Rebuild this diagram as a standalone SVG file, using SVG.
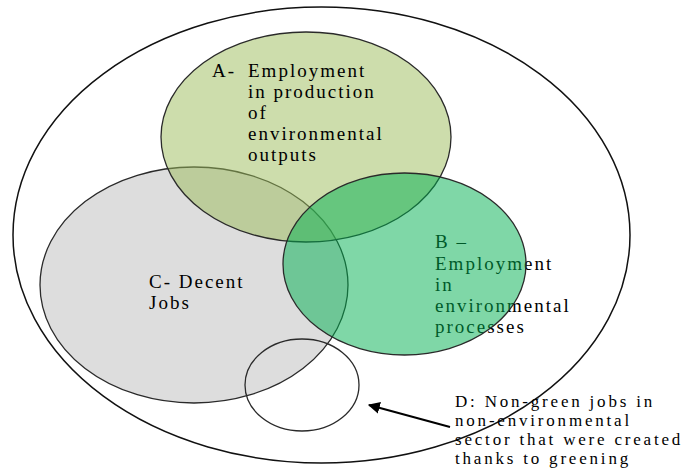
<svg xmlns="http://www.w3.org/2000/svg" width="694" height="469" viewBox="0 0 694 469">
<defs>
<style>
text{font-family:'Liberation Serif','Times New Roman','DejaVu Serif',serif;fill:#000}
.lbl{font-size:19px;letter-spacing:2px}
.note{font-size:17px;letter-spacing:2.8px}
.edge{stroke:#2a2a2a;stroke-width:1.3}
</style>
<marker id="ah" viewBox="0 0 10 10" refX="9" refY="5" markerWidth="6" markerHeight="6" orient="auto" markerUnits="strokeWidth">
<path d="M0,0 L10,5 L0,10 z" fill="#000"/>
</marker>
</defs>
<rect width="694" height="469" fill="#fff"/>
<g id="outer">
<ellipse cx="321.5" cy="235" rx="308.5" ry="228" fill="none" stroke="#111" stroke-width="1.5"/>
</g>
<g id="nodeC">
<ellipse class="edge" cx="194" cy="285" rx="154" ry="118" fill="#dddddd"/>
<text class="lbl" x="149" y="288" font-family="Liberation Serif, serif">C- Decent</text>
<text class="lbl" x="149" y="309" font-family="Liberation Serif, serif">Jobs</text>
</g>
<g id="nodeA">
<ellipse class="edge" cx="306" cy="137" rx="145" ry="105" fill="#9bbb59" fill-opacity="0.5"/>
<text class="lbl" x="212" y="77" font-family="Liberation Serif, serif">A-</text>
<text class="lbl" x="248" y="77" font-family="Liberation Serif, serif">Employment</text>
<text class="lbl" x="248" y="98" font-family="Liberation Serif, serif">in production</text>
<text class="lbl" x="248" y="119" font-family="Liberation Serif, serif">of</text>
<text class="lbl" x="248" y="140" font-family="Liberation Serif, serif">environmental</text>
<text class="lbl" x="248" y="161" font-family="Liberation Serif, serif">outputs</text>
</g>
<g id="nodeB">
<text class="lbl" x="435" y="248" font-family="Liberation Serif, serif">B –</text>
<text class="lbl" x="435" y="270" font-family="Liberation Serif, serif">Employment</text>
<text class="lbl" x="435" y="291" font-family="Liberation Serif, serif">in</text>
<text class="lbl" x="435" y="312" font-family="Liberation Serif, serif">environmental</text>
<text class="lbl" x="435" y="333" font-family="Liberation Serif, serif">processes</text>
<ellipse class="edge" cx="404.5" cy="264" rx="121.5" ry="91" fill="#00b050" fill-opacity="0.5"/>
</g>
<g id="nodeD">
<ellipse cx="302" cy="385" rx="57" ry="46" fill="none" stroke="#2a2a2a" stroke-width="1.3"/>
<text class="note" x="455" y="407" font-family="Liberation Serif, serif">D: Non-green jobs in</text>
<text class="note" x="455" y="426" font-family="Liberation Serif, serif">non-environmental</text>
<text class="note" x="455" y="445" font-family="Liberation Serif, serif">sector that were created</text>
<text class="note" x="455" y="464" font-family="Liberation Serif, serif">thanks to greening</text>
</g>
<g id="connectors">
<line x1="450" y1="427" x2="369" y2="405" stroke="#000" stroke-width="2" marker-end="url(#ah)"/>
</g>
</svg>
